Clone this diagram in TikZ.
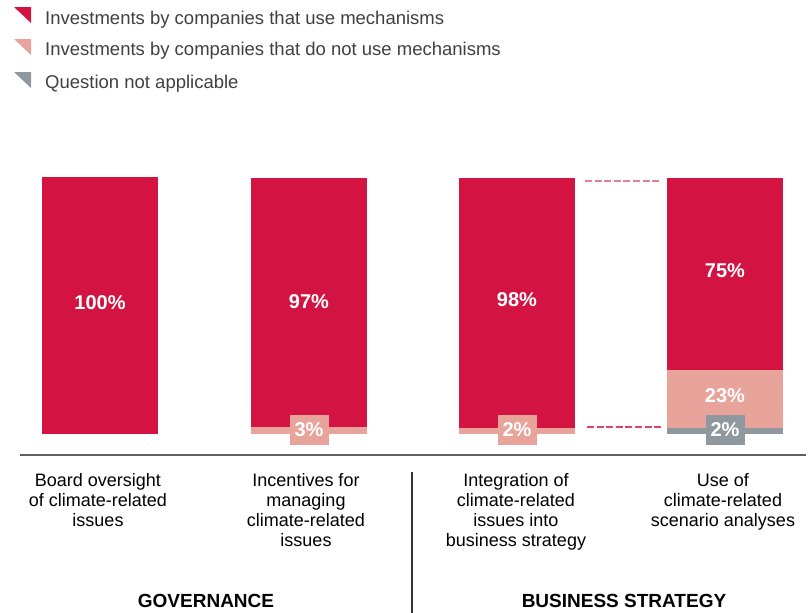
\documentclass[tikz,border=0pt]{standalone}
\usepackage{fontspec}
\setmainfont{Liberation Sans}
\usetikzlibrary{positioning}
\definecolor{crim}{HTML}{D31443}
\definecolor{rose}{HTML}{E8A39B}
\definecolor{slate}{HTML}{8F989E}
\definecolor{rule}{HTML}{606060}
\tikzstyle{used}=[fill=crim]
\tikzstyle{notused}=[fill=rose]
\tikzstyle{na}=[fill=slate]
\tikzstyle{pct}=[text=white,font=\bfseries\fontsize{20}{22}\selectfont]
\tikzstyle{tag}=[pct,inner sep=0pt,minimum width=39pt,minimum height=30pt]
\tikzstyle{cat}=[align=center,anchor=north,inner sep=0pt,font=\fontsize{18}{20}\selectfont]
\tikzstyle{group}=[anchor=base,font=\bfseries\fontsize{19}{22}\selectfont]
\tikzstyle{key}=[anchor=base west,inner sep=0pt,text=black!75,font=\fontsize{18.5}{20}\selectfont]
\tikzstyle{guide}=[line width=1.4pt,dash pattern=on 7pt off 2.6pt]

\begin{document}
\begin{tikzpicture}[x=1pt,y=-1pt]
          \useasboundingbox (0,0) rectangle (809,613);

          % legend
          \fill[crim]  (14,7)  -- (31,7)  -- (31,23) -- cycle;
          \node[key] (k1) at (45,24) {Investments by companies that use mechanisms};
          \fill[rose]  (14,39) -- (31,39) -- (31,55) -- cycle;
          \node[key] (k2) at (45,55) {Investments by companies that do not use mechanisms};
          \fill[slate] (14,72) -- (31,72) -- (31,88) -- cycle;
          \node[key] (k3) at (45,88) {Question not applicable};

          % bars
          \fill[used]    (42,177)  rectangle (158,434);
          \node[pct] (p1) at (100,303) {100\%};

          \fill[used]    (251,178) rectangle (367,427);
          \fill[notused] (251,427) rectangle (367,434);
          \node[pct] (p2) at (309,302) {97\%};
          \node[tag,notused] (q2) at (309,430) {3\%};

          \fill[used]    (459,178) rectangle (575,428);
          \fill[notused] (459,428) rectangle (575,434);
          \node[pct] (p3) at (517,300) {98\%};
          \node[tag,notused] (q3) at (517,430) {2\%};

          \fill[used]    (667,178) rectangle (783,370);
          \fill[notused] (667,370) rectangle (783,428);
          \fill[na]      (667,428) rectangle (783,434);
          \node[pct] (p4) at (725,271) {75\%};
          \node[pct] (q4) at (725,396) {23\%};
          \node[tag,na] (r4) at (725,430) {2\%};

          % dashed guides between bars 3 and 4
          \coordinate (t3) at (585,181);
          \coordinate (t4) at (660,181);
          \coordinate (b3) at (587,427);
          \coordinate (b4) at (661,427);
          \draw[guide,crim!55] (t3) -- (t4);
          \draw[guide,crim!80] (b3) -- (b4);

          % axis and divider
          \coordinate (a0) at (20,455);
          \coordinate (a1) at (806,455);
          \draw[rule,line width=1.5pt] (a0) -- (a1);
          \coordinate (d0) at (412,472);
          \coordinate (d1) at (412,613);
          \draw[black!80,line width=1.2pt] (d0) -- (d1);

          % category labels
          \node[cat] (c1) at (98,473)  {Board oversight\\of climate-related\\issues};
          \node[cat] (c2) at (306,473) {Incentives for\\managing\\climate-related\\issues};
          \node[cat] (c3) at (516,473) {Integration of\\climate-related\\issues into\\business strategy};
          \node[cat] (c4) at (723,473) {Use of\\climate-related\\scenario analyses};

          \node[group] (g1) at (206,607) {GOVERNANCE};
          \node[group] (g2) at (624,607) {BUSINESS STRATEGY};
        \end{tikzpicture}
\end{document}
